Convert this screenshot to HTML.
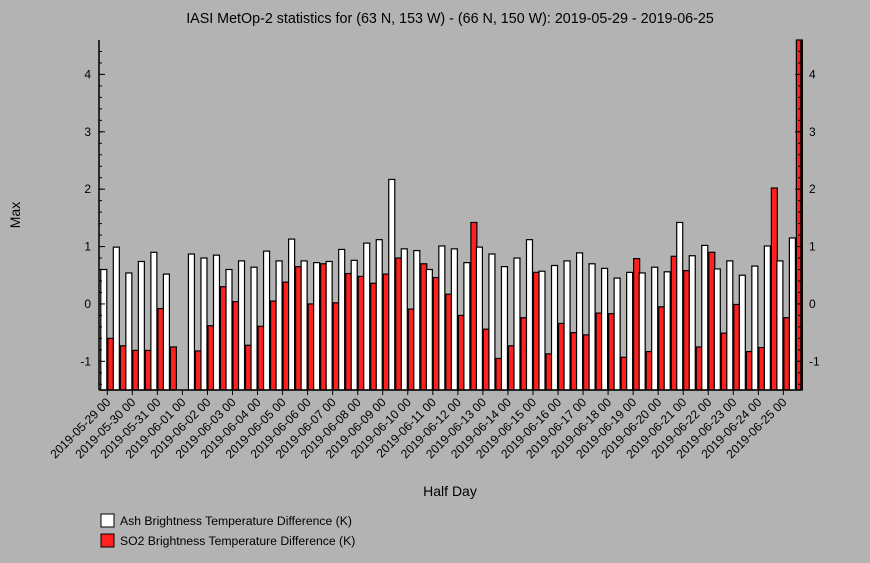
<!DOCTYPE html>
<html><head><meta charset="utf-8"><style>
body{margin:0;background:#b3b3b3;}
svg{display:block;font-family:"Liberation Sans",sans-serif;}
</style></head><body>
<svg id="c" width="870" height="563" xmlns="http://www.w3.org/2000/svg">
<rect width="870" height="563" fill="#b3b3b3"/>
<text x="450" y="23" text-anchor="middle" font-size="14.3">IASI MetOp-2 statistics for (63 N, 153 W) - (66 N, 150 W): 2019-05-29 - 2019-06-25</text>
<text x="20" y="215" text-anchor="middle" font-size="14" transform="rotate(-90 20 215)">Max</text>
<text x="450" y="496" text-anchor="middle" font-size="14">Half Day</text>
<g id="bars"></g>
<g id="axes"></g>
<g>
<rect x="101" y="514" width="13" height="13" fill="#fff" stroke="#000"/>
<text x="120" y="525" font-size="12.2">Ash Brightness Temperature Difference (K)</text>
<rect x="101" y="534" width="13" height="13" fill="#ff2020" stroke="#000"/>
<text x="120" y="545" font-size="12.2">SO2 Brightness Temperature Difference (K)</text>
</g>
</svg>
<script>
const dayLabels=["2019-05-29 00","2019-05-30 00","2019-05-31 00","2019-06-01 00","2019-06-02 00","2019-06-03 00","2019-06-04 00","2019-06-05 00","2019-06-06 00","2019-06-07 00","2019-06-08 00","2019-06-09 00","2019-06-10 00","2019-06-11 00","2019-06-12 00","2019-06-13 00","2019-06-14 00","2019-06-15 00","2019-06-16 00","2019-06-17 00","2019-06-18 00","2019-06-19 00","2019-06-20 00","2019-06-21 00","2019-06-22 00","2019-06-23 00","2019-06-24 00","2019-06-25 00"];
const ash=[0.6,0.99,0.54,0.74,0.9,0.52,null,0.87,0.8,0.85,0.6,0.75,0.64,0.92,0.75,1.13,0.75,0.72,0.74,0.95,0.76,1.06,1.12,2.17,0.96,0.93,0.6,1.01,0.96,0.72,0.99,0.87,0.65,0.8,1.12,0.57,0.67,0.75,0.89,0.7,0.62,0.45,0.55,0.54,0.64,0.56,1.42,0.84,1.02,0.61,0.75,0.5,0.66,1.01,0.75,1.15];
const so2=[-0.6,-0.73,-0.81,-0.81,-0.08,-0.75,null,-0.82,-0.38,0.3,0.04,-0.72,-0.39,0.05,0.38,0.65,0.0,0.7,0.02,0.53,0.48,0.36,0.52,0.8,-0.09,0.7,0.46,0.17,-0.2,1.42,-0.44,-0.95,-0.73,-0.24,0.55,-0.87,-0.34,-0.5,-0.54,-0.16,-0.17,-0.93,0.79,-0.83,-0.05,0.83,0.58,-0.75,0.9,-0.51,-0.01,-0.83,-0.76,2.02,-0.24,4.6];
const yTicks=[-1,0,1,2,3,4];
const NS="http://www.w3.org/2000/svg";
const X0=99,X1=801,Y0=40,Y1=390,YMIN=-1.5,YMAX=4.6;
const slotW=12.52;
function xs(i){return 107.3+slotW*i;}
function ys(v){return Y1-(v-YMIN)/(YMAX-YMIN)*(Y1-Y0);}
function mk(tag,attrs,parent){const e=document.createElementNS(NS,tag);for(const k in attrs)e.setAttribute(k,attrs[k]);parent.appendChild(e);return e;}
const bars=document.getElementById('bars'),axes=document.getElementById('axes');
const bw=6;
for(let i=0;i<ash.length;i++){
 const cx=xs(i);
 if(ash[i]!==null){const t=Math.max(ys(ash[i]),Y0);
  const r=mk('rect',{x:cx-bw-0.5,y:t,width:bw,height:Y1-t,fill:'#fff',stroke:'#000','stroke-width':1.2},bars);
  
  }
 if(so2[i]!==null){const t=Math.max(ys(so2[i]),Y0);
  const r=mk('rect',{x:cx+0.5,y:t,width:bw,height:Y1-t,fill:'#ff2020',stroke:'#000','stroke-width':1.2},bars);
  
  }
}
mk('line',{x1:X0,y1:Y0,x2:X0,y2:Y1,stroke:'#000','stroke-width':1.5},axes);
mk('line',{x1:X1,y1:Y0,x2:X1,y2:Y1,stroke:'#000','stroke-width':1.5},axes);
mk('line',{x1:X0,y1:Y1,x2:X1,y2:Y1,stroke:'#000','stroke-width':1.5},axes);
for(let v=-1.4;v<=4.6;v+=0.2){const y=ys(v);
 mk('line',{x1:X0,y1:y,x2:X0+3,y2:y,stroke:'#000'},axes);
 mk('line',{x1:X1,y1:y,x2:X1-3,y2:y,stroke:'#000'},axes);}
yTicks.forEach(v=>{const y=ys(v);
 mk('line',{x1:X0,y1:y,x2:X0+6,y2:y,stroke:'#000'},axes);
 mk('line',{x1:X1,y1:y,x2:X1-6,y2:y,stroke:'#000'},axes);
 const a=mk('text',{x:X0-8,y:y+4,'text-anchor':'end','font-size':12},axes);a.textContent=v;
 
 
 const b=mk('text',{x:X1+8,y:y+4,'text-anchor':'start','font-size':12},axes);b.textContent=v;
 
 });
dayLabels.forEach((l,d)=>{const x=xs(2*d);
 mk('line',{x1:x,y1:Y1,x2:x,y2:Y1+5,stroke:'#000'},axes);
 const t=mk('text',{x:x+4,y:Y1+13,'text-anchor':'end','font-size':12.2,transform:`rotate(-45 ${x+4} ${Y1+13})`},axes);t.textContent=l;
 
 });
</script>
</body></html>
